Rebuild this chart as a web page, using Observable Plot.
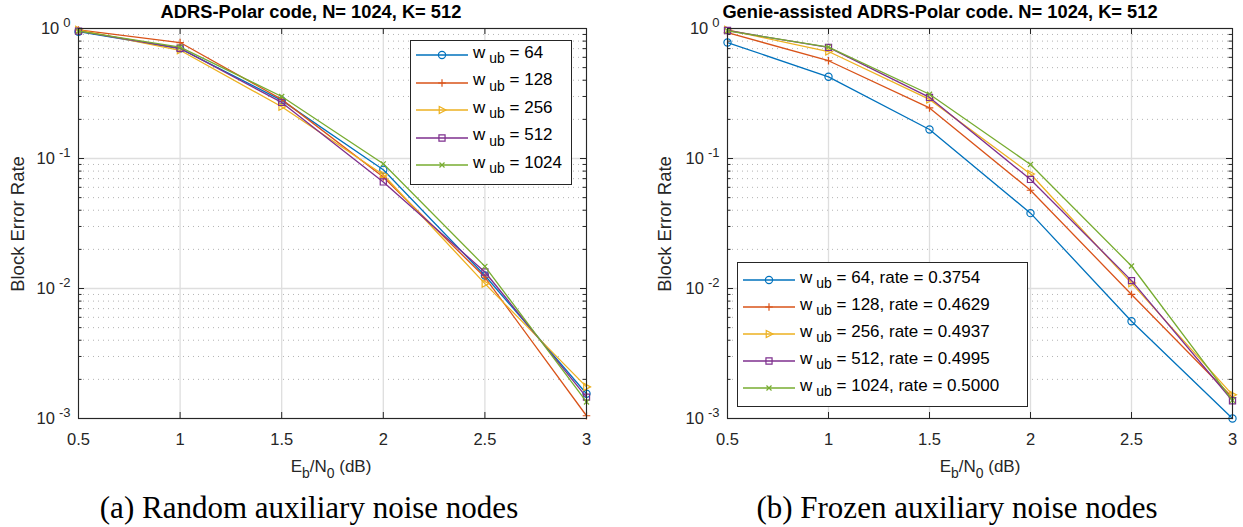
<!DOCTYPE html>
<html>
<head>
<meta charset="utf-8">
<script src="https://cdn.jsdelivr.net/npm/d3@7"></script>
<script src="https://cdn.jsdelivr.net/npm/@observablehq/plot@0.6"></script>
<style>
  body { margin: 0; background: #fff; }
  #fig { position: relative; width: 1243px; height: 527px; overflow: hidden;
         font-family: "Liberation Sans", Arial, sans-serif; color: #000; }
  .abs { position: absolute; white-space: nowrap; line-height: 1; }
  .title { font-weight: bold; font-size: 18.3px; transform: translate(-50%, -50%); }
  .xlab { font-size: 17px; transform: translate(-50%, -50%); color: #262626; }
  .ylab { font-size: 18.5px; transform: translate(-50%, -50%) rotate(-90deg); color: #262626; }
  .cap { font-family: "Liberation Serif", "DejaVu Serif", serif; font-size: 31px; transform: translate(-50%, -50%); }
  .sub { font-size: 0.82em; position: relative; top: 0.42em; }
  .legend { background: #fff; border: 1px solid #262626; font-size: 17px; color: #000; }
  .legend .row { position: absolute; left: 0; height: 20px; display: flex; align-items: center; }
  .legend svg { display: block; }
</style>
</head>
<body>
<div id="fig"></div>
<script>
// Eb/N0 grid of the simulations (dB)
const ebn0 = [0.5, 1, 1.5, 2, 2.5, 3];
// upper bound on the weight of auxiliary noise nodes
const wub = [64, 128, 256, 512, 1024];
// code rates obtained with frozen auxiliary noise nodes
const rates = ["0.3754", "0.4629", "0.4937", "0.4995", "0.5000"];

// (a) block error rate, random auxiliary noise nodes
const randomW64   = [0.945, 0.700, 0.280, 0.0820, 0.0126, 0.00155];
const randomW128  = [0.975, 0.780, 0.285, 0.0720, 0.0122, 0.00105];
const randomW256  = [0.975, 0.680, 0.250, 0.0750, 0.0109, 0.00175];
const randomW512  = [0.955, 0.705, 0.270, 0.0660, 0.0134, 0.00146];
const randomW1024 = [0.955, 0.720, 0.300, 0.0910, 0.0148, 0.00134];

// (b) block error rate, frozen auxiliary noise nodes (genie-assisted)
const frozenW64   = [0.780, 0.425, 0.167, 0.0380, 0.0056, 0.00100];
const frozenW128  = [0.930, 0.565, 0.245, 0.0570, 0.0090, 0.00145];
const frozenW256  = [0.975, 0.665, 0.285, 0.0760, 0.0110, 0.00152];
const frozenW512  = [0.965, 0.715, 0.295, 0.0690, 0.0115, 0.00137];
const frozenW1024 = [0.960, 0.720, 0.312, 0.0900, 0.0149, 0.00138];

const colors = ["#0072BD", "#D95319", "#EDB120", "#7E2F8E", "#77AC30"];

// axis ticks
const xTicks = [0.5, 1, 1.5, 2, 2.5, 3];
const yMajor = [1e-3, 1e-2, 1e-1, 1];
const yMinor = [];
for (let e = -3; e < 0; e++) for (let m = 2; m <= 9; m++) yMinor.push(+(m * 10 ** e).toPrecision(3));

// line-style markers: o, +, >, square, x
const rad = (size) => Math.sqrt(size / Math.PI);
const symCircle = { draw(c, s) { const r = rad(s); c.moveTo(r, 0); c.arc(0, 0, r, 0, 2 * Math.PI); } };
const symPlus = { draw(c, s) { const r = rad(s) * 1.05; c.moveTo(-r, 0); c.lineTo(r, 0); c.moveTo(0, -r); c.lineTo(0, r); } };
const symTriR = { draw(c, s) { const r = rad(s) * 1.1; c.moveTo(r, 0); c.lineTo(-r * 0.7, -r * 0.9); c.lineTo(-r * 0.7, r * 0.9); c.closePath(); } };
const symSquare = { draw(c, s) { const r = rad(s) * 0.85; c.rect(-r, -r, 2 * r, 2 * r); } };
const symTimes = { draw(c, s) { const r = rad(s) * 0.7; c.moveTo(-r, -r); c.lineTo(r, r); c.moveTo(-r, r); c.lineTo(r, -r); } };
const symbols = [symCircle, symPlus, symTriR, symSquare, symTimes];

function rowsOf(seriesList) {
  const rows = [];
  seriesList.forEach((vals, i) => vals.forEach((v, j) => rows.push({ x: ebn0[j], y: v, s: i })));
  return rows;
}

const H = 527, TOP = 28, BOTTOM = 418;

function panel(seriesList, left, width, plotLeft, plotRight) {
  const rows = rowsOf(seriesList);
  const pw = plotRight - plotLeft;
  const marks = [
    Plot.gridY(yMinor, { stroke: "#9a9a9a", strokeOpacity: 0.75, strokeWidth: 1, strokeDasharray: "1,4" }),
    Plot.gridY(yMajor, { stroke: "#dedede", strokeOpacity: 1, strokeWidth: 1.3 }),
    Plot.gridX(xTicks, { stroke: "#dedede", strokeOpacity: 1, strokeWidth: 1.3 }),
    // inward ticks on all four sides
    Plot.tickY(yMajor, { y: d => d, insetRight: pw - 6, stroke: "#262626" }),
    Plot.tickY(yMajor, { y: d => d, insetLeft: pw - 6, stroke: "#262626" }),
    Plot.tickY(yMinor, { y: d => d, insetRight: pw - 3.5, stroke: "#262626" }),
    Plot.tickY(yMinor, { y: d => d, insetLeft: pw - 3.5, stroke: "#262626" }),
    Plot.tickX(xTicks, { x: d => d, insetTop: (BOTTOM - TOP) - 6, stroke: "#262626" }),
    Plot.tickX(xTicks, { x: d => d, insetBottom: (BOTTOM - TOP) - 6, stroke: "#262626" }),
    Plot.axisX(xTicks, { tickSize: 0, tickPadding: 15, tickFormat: d => String(d), color: "#262626" }),
    Plot.axisY(yMajor, { tickSize: 0, tickPadding: 8, tickFormat: d => "10^" + Math.round(Math.log10(d)), color: "#262626" })
  ];
  seriesList.forEach((_, i) => {
    const data = rows.filter(r => r.s === i);
    marks.push(Plot.line(data, { x: "x", y: "y", stroke: colors[i], strokeWidth: 1.3 }));
    marks.push(Plot.dot(data, { x: "x", y: "y", stroke: colors[i], fill: "none", symbol: symbols[i], r: 3.6, strokeWidth: 1.2 }));
  });
  marks.push(Plot.frame({ stroke: "#262626", strokeWidth: 1.1 }));

  const svg = Plot.plot({
    width, height: H,
    marginLeft: plotLeft - left, marginRight: left + width - plotRight,
    marginTop: TOP, marginBottom: H - BOTTOM,
    x: { type: "linear", domain: [0.5, 3], label: null },
    y: { type: "log", domain: [1e-3, 1], label: null },
    style: { fontFamily: "Liberation Sans, Arial, sans-serif", fontSize: "16.5px", background: "transparent", overflow: "visible" },
    marks
  });
  const root = d3.select(svg);
  root.selectAll('g[aria-label="x-axis tick label"], g[aria-label="y-axis tick label"]').attr("font-size", null);
  root.selectAll('g[aria-label="x-axis tick label"] text, g[aria-label="y-axis tick label"] text')
    .style("font-size", "16.5px");
  // exponent labels as superscripts
  root.selectAll('g[aria-label="y-axis tick label"] text').each(function () {
    const t = this.textContent;
    const [base, exp] = t.split("^");
    const sel = d3.select(this);
    sel.text(base);
    sel.append("tspan").attr("dx", "4").attr("dy", "-0.55em").style("font-size", "13px").text(exp);
  });
  svg.style.position = "absolute";
  svg.style.left = left + "px";
  svg.style.top = "0px";
  return svg;
}

const fig = document.getElementById("fig");
fig.appendChild(panel([randomW64, randomW128, randomW256, randomW512, randomW1024], 0, 621, 78, 586));
fig.appendChild(panel([frozenW64, frozenW128, frozenW256, frozenW512, frozenW1024], 621, 622, 727, 1232));

function addText(cls, x, y, html) {
  const d = document.createElement("div");
  d.className = "abs " + cls;
  d.style.left = x + "px";
  d.style.top = y + "px";
  d.innerHTML = html;
  fig.appendChild(d);
}
addText("title", 311, 12, "ADRS-Polar code, N= 1024, K= 512");
addText("title", 940, 12, "Genie-assisted ADRS-Polar code. N= 1024, K= 512");
const xl = 'E<span class="sub">b</span>/N<span class="sub">0</span> (dB)';
addText("xlab", 331, 466, xl);
addText("xlab", 980, 466, xl);
addText("ylab", 18, 224, "Block Error Rate");
addText("ylab", 665, 224, "Block Error Rate");
addText("cap", 309, 507, "(a) Random auxiliary noise nodes");
addText("cap", 957, 507, "(b) Frozen auxiliary noise nodes");

// legends
function legend(x, y, w, h, labels, rowY0, rowStep) {
  const box = document.createElement("div");
  box.className = "abs legend";
  box.style.left = x + "px"; box.style.top = y + "px";
  box.style.width = w + "px"; box.style.height = h + "px";
  labels.forEach((lab, i) => {
    const row = document.createElement("div");
    row.className = "row";
    row.style.top = (rowY0 + i * rowStep - 10) + "px";
    const s = d3.create("svg").attr("width", 62).attr("height", 20);
    s.append("line").attr("x1", 5).attr("x2", 57).attr("y1", 10).attr("y2", 10)
      .attr("stroke", colors[i]).attr("stroke-width", 1.3);
    s.append("path").attr("transform", "translate(31,10)")
      .attr("d", d3.symbol(symbols[i], Math.PI * 3.6 * 3.6)())
      .attr("fill", "none").attr("stroke", colors[i]).attr("stroke-width", 1.2);
    row.appendChild(s.node());
    const t = document.createElement("span");
    t.innerHTML = 'w<span class="sub" style="margin-left:4px">ub</span>&nbsp;= ' + lab;
    t.style.position = "relative"; t.style.top = "-3px";
    row.appendChild(t);
    box.appendChild(row);
  });
  fig.appendChild(box);
}
legend(410, 40, 160, 143, wub.map(String), 14, 27.5);
legend(737, 262, 289, 143, wub.map((w, i) => w + ", rate = " + rates[i]), 17, 27);
</script>
</body>
</html>
